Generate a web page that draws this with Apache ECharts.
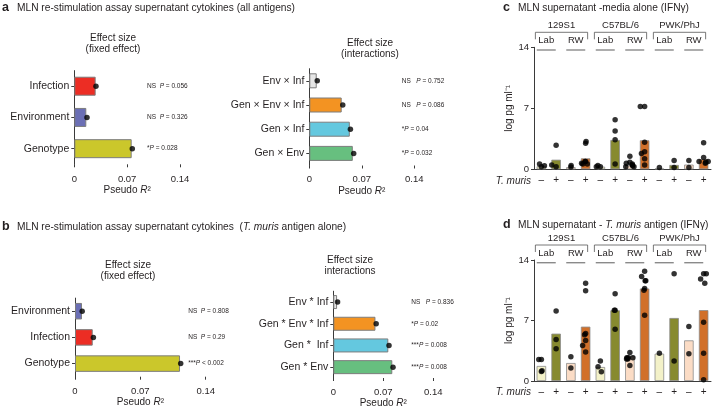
<!DOCTYPE html>
<html><head><meta charset="utf-8">
<script src="https://cdn.jsdelivr.net/npm/echarts@6/dist/echarts.min.js"></script>
<style>html,body{margin:0;padding:0;background:#fff}#c{width:722px;height:410px}</style>
</head><body><div id="c"></div>
<script>
// ---------- Panel a : all antigens ----------
const aFixedCats = ['Infection', 'Environment', 'Genotype'];
const aFixedR2   = [0.0283, 0.0159, 0.0760];
const aFixedPt   = [0.0287, 0.0168, 0.0768];
const aFixedSig  = ['NS  ', 'NS  ', '*'];
const aFixedP    = ['= 0.056', '= 0.326', '= 0.028'];

const aIntCats = ['Env × Inf', 'Gen × Env × Inf', 'Gen × Inf', 'Gen × Env'];
const aIntR2   = [0.0099, 0.0432, 0.0540, 0.0580];
const aIntPt   = [0.0106, 0.0446, 0.0548, 0.0592];
const aIntSig  = ['NS   ', 'NS   ', '*', '*'];
const aIntP    = ['= 0.752', '= 0.086', '= 0.04', '= 0.032'];

// ---------- Panel b : T. muris antigen alone ----------
const bFixedCats = ['Environment', 'Infection', 'Genotype'];
const bFixedR2   = [0.0075, 0.0190, 0.1125];
const bFixedPt   = [0.0077, 0.0197, 0.1132];
const bFixedSig  = ['NS  ', 'NS  ', '***'];
const bFixedP    = ['= 0.808', '= 0.29', '< 0.002'];

const bIntCats = ['Env * Inf', 'Gen * Env * Inf', 'Gen *  Inf', 'Gen * Env'];
const bIntR2   = [0.0053, 0.0590, 0.0770, 0.0826];
const bIntPt   = [0.0060, 0.0600, 0.0780, 0.0836];
const bIntSig  = ['NS   ', '*', '***', '***'];
const bIntP    = ['= 0.836', '= 0.02', '= 0.008', '= 0.008'];

const r2Ticks = [0, 0.07, 0.14];

// ---------- Panels c, d : IFNγ ----------
const strains = ['129S1', 'C57BL/6', 'PWK/PhJ'];
const envs = ['Lab', 'RW'];
const tmLabels = ['–', '+', '–', '+', '–', '+', '–', '+', '–', '+', '–', '+'];
const ifnTicks = [0, 7, 14];

const cBars = [0.35, 1.1, 0.25, 1.26, 0.3, 3.37, 0.45, 3.33, 0.1, 0.5, 0.54, 1.15];
const cDots = [
  [0.3, 0.6, 0.4],
  [2.75, 0.3, 0.5],
  [0.25, 0.45],
  [3.0, 3.2, 0.9, 0.6, 0.6, 0.7, 0.9],
  [0.3, 0.45, 0.3],
  [5.7, 4.4, 3.4, 0.6],
  [1.5, 0.8, 0.7, 0.5, 0.4, 0.3, 0.3, 0.6],
  [7.2, 7.2, 3.1, 2.0, 1.8, 1.2, 0.5],
  [0.2],
  [1.0, 0.2],
  [1.0, 0.2],
  [3.05, 1.35, 0.9, 0.9, 0.7, 0.8]
];

const dBars = [1.74, 5.48, 2.08, 6.29, 1.62, 8.18, 2.93, 10.7, 3.16, 7.29, 4.7, 8.2];
const dDots = [
  [2.5, 2.5, 1.1, 1.2],
  [8.1, 4.8, 3.74],
  [2.8, 1.5],
  [11.3, 10.45, 5.5, 5.36, 4.7, 4.1, 3.35],
  [2.3, 1.66, 1.08],
  [10.1, 8.2, 8.2, 6.0],
  [3.3, 2.7, 2.7, 2.7, 2.55, 2.55, 1.8],
  [12.7, 12.1, 11.6, 11.6, 10.7, 10.5, 7.6],
  [3.2],
  [12.4, 2.3],
  [6.3, 3.16],
  [12.4, 12.4, 11.8, 11.3, 6.8, 3.2, 0.15]
];

// ---------- styles ----------
const TXT = '#231f20';
const FONT = 'Liberation Sans';
const AX = '#3a3a3a';
const COL = {
  'Infection': '#ec2d24', 'Environment': '#6b6fb5', 'Genotype': '#cbc72b',
  'Env × Inf': '#e6e6e6', 'Gen × Env × Inf': '#f39322', 'Gen × Inf': '#64c8df', 'Gen × Env': '#67bf7f',
  'Env * Inf': '#e6e6e6', 'Gen * Env * Inf': '#f39322', 'Gen *  Inf': '#64c8df', 'Gen * Env': '#67bf7f'
};
const IFN_COL = ['#f3f1c8', '#878a2f', '#fbdcc5', '#d1702a'];

const chart = echarts.init(document.getElementById('c'), null, {renderer: 'canvas'});

const barGrids = [
  {left: 74.3, top: 70.6, width: 105.7, height: 93.7, cats: aFixedCats, r2: aFixedR2, pt: aFixedPt, sig: aFixedSig, p: aFixedP, bw: 19, pOff: 33, margin: 10, gap: 21},
  {left: 309.3, top: 68.7, width: 105, height: 96.8, cats: aIntCats, r2: aIntR2, pt: aIntPt, sig: aIntSig, p: aIntP, bw: 15, pOff: 12.5, margin: 9, gap: 21},
  {left: 75, top: 298.1, width: 130.7, height: 78.6, cats: bFixedCats, r2: bFixedR2, pt: bFixedPt, sig: bFixedSig, p: bFixedP, bw: 16.5, pOff: 17.5, margin: 10, gap: 21},
  {left: 333.3, top: 291.2, width: 100, height: 86.8, cats: bIntCats, r2: bIntR2, pt: bIntPt, sig: bIntSig, p: bIntP, bw: 14, pOff: 22, margin: 9, gap: 20}
];

const grid = [], xAxis = [], yAxis = [], series = [];
barGrids.forEach((g, k) => {
  grid.push({left: g.left, top: g.top, width: g.width, height: g.height, containLabel: false});
  xAxis.push({
    type: 'value', gridIndex: k, min: r2Ticks[0], max: r2Ticks[2], interval: r2Ticks[1],
    axisLine: {show: false}, splitLine: {show: false},
    axisTick: {show: true, length: 3, lineStyle: {color: AX}},
    axisLabel: {fontFamily: FONT, fontSize: 9.5, color: TXT, margin: g.margin, formatter: v => String(+v.toFixed(2))},
    name: '{t|Pseudo }{i|R}{t|²}', nameLocation: 'middle', nameGap: g.gap,
    nameTextStyle: {rich: {t: {fontFamily: FONT, fontSize: 10, color: TXT}, i: {fontFamily: FONT, fontSize: 10, fontStyle: 'italic', color: TXT}}}
  });
  yAxis.push({
    type: 'category', gridIndex: k, data: g.cats, inverse: true,
    axisLine: {show: true, lineStyle: {color: AX, width: 1}},
    axisTick: {show: true, length: 3, alignWithLabel: true, lineStyle: {color: AX}},
    axisLabel: {fontFamily: FONT, fontSize: 10.5, color: TXT, margin: 5}
  });
  yAxis.push({
    type: 'category', gridIndex: k, data: g.cats, inverse: true, position: 'right', offset: -g.pOff,
    axisLine: {show: false}, axisTick: {show: false},
    axisLabel: {
      margin: 0, align: 'left',
      formatter: (v, i) => `{s|${g.sig[i]}}{i|P}{s| ${g.p[i]}}`,
      rich: {s: {fontFamily: FONT, fontSize: 6.5, color: TXT}, i: {fontFamily: FONT, fontSize: 6.5, fontStyle: 'italic', color: TXT}}
    }
  });
  series.push({
    type: 'bar', xAxisIndex: k, yAxisIndex: 2 * k, barWidth: g.bw,
    data: g.r2.map((v, i) => ({value: v, itemStyle: {color: COL[g.cats[i]]}})),
    itemStyle: {borderColor: '#7d7d7d', borderWidth: 1}
  });
  series.push({
    type: 'scatter', xAxisIndex: k, yAxisIndex: 2 * k, symbolSize: 5.5,
    itemStyle: {color: '#000'},
    data: g.pt.map((v, i) => [v, i])
  });
});

const ifnGrids = [
  {left: 534, top: 47.3, width: 177, height: 122, bars: cBars, dots: cDots},
  {left: 534, top: 260, width: 177, height: 121, bars: dBars, dots: dDots}
];
ifnGrids.forEach((g, j) => {
  const k = 4 + j;
  grid.push({left: g.left, top: g.top, width: g.width, height: g.height});
  xAxis.push({
    type: 'category', gridIndex: k, data: tmLabels,
    jitter: 10, jitterOverlap: false, jitterMargin: 0.5,
    axisLine: {show: true, lineStyle: {color: AX, width: 1}},
    axisTick: {show: false},
    axisLabel: {fontFamily: FONT, fontSize: 10, color: TXT, margin: 6}
  });
  yAxis.push({
    type: 'value', gridIndex: k, min: ifnTicks[0], max: ifnTicks[2], interval: ifnTicks[1],
    axisLine: {show: true, lineStyle: {color: AX, width: 1}},
    axisTick: {show: true, length: 3, lineStyle: {color: AX}},
    splitLine: {show: false},
    axisLabel: {fontFamily: FONT, fontSize: 9.5, color: TXT, margin: 5},
    name: 'log pg ml⁻¹', nameLocation: 'middle', nameGap: 19,
    nameTextStyle: {fontFamily: FONT, fontSize: 10, color: TXT}
  });
  series.push({
    type: 'bar', xAxisIndex: k, yAxisIndex: 8 + j, barWidth: 9.5,
    data: g.bars.map((v, i) => ({value: v, itemStyle: {color: IFN_COL[i % 4]}})),
    itemStyle: {borderColor: '#8c8c8c', borderWidth: 0.8}
  });
  series.push({
    type: 'scatter', xAxisIndex: k, yAxisIndex: 8 + j, symbolSize: 5.5,
    itemStyle: {color: '#000'},
    data: g.dots.flatMap((arr, i) => arr.map(v => [i, v]))
  });
});

chart.setOption({animation: false, grid, xAxis, yAxis, series});

// ---------- annotations ----------
const T = (x, y, text, opt = {}) => ({
  type: 'text', x, y,
  style: Object.assign({text, fill: TXT, font: `${opt.size || 10}px "${FONT}"`, align: opt.align || 'left', verticalAlign: 'middle'}, opt.style || {})
});
const richT = (x, y, text, size) => ({
  type: 'text', x, y,
  style: {
    text, fill: TXT, align: 'left', verticalAlign: 'middle',
    rich: {n: {fontFamily: FONT, fontSize: size, fill: TXT}, it: {fontFamily: FONT, fontSize: size, fontStyle: 'italic', fill: TXT}}
  }
});
const BOLD = {style: {font: `bold 12.5px "${FONT}"`}};
const TS = 10.2;
const g = [];
g.push(T(2, 8, 'a', BOLD));
g.push(T(17, 8, 'MLN re-stimulation assay supernatant cytokines (all antigens)', {size: TS}));
g.push(T(2, 227, 'b', BOLD));
g.push(richT(17, 227, '{n|MLN re-stimulation assay supernatant cytokines  (}{it|T. muris}{n| antigen alone)}', TS));
g.push(T(503, 8, 'c', BOLD));
g.push(T(518, 8, 'MLN supernatant -media alone (IFNγ)', {size: TS}));
g.push(T(503, 225, 'd', BOLD));
g.push(richT(518, 225, '{n|MLN supernatant - }{it|T. muris}{n| antigen (IFNγ)}', TS));

const eff = (x, y, text) => ({type: 'text', x, y, style: {text, fill: TXT, font: `10px "${FONT}"`, align: 'center', verticalAlign: 'middle', lineHeight: 11}});
g.push(eff(113, 44, 'Effect size\n(fixed effect)'));
g.push(eff(370, 49, 'Effect size\n(interactions)'));
g.push(eff(128, 271, 'Effect size\n(fixed effect)'));
g.push(eff(350, 265.5, 'Effect size\ninteractions'));

g.push(T(531, 181, 'T. muris', {align: 'right', style: {font: `italic 10px "${FONT}"`}}));
g.push(T(531, 392, 'T. muris', {align: 'right', style: {font: `italic 10px "${FONT}"`}}));

ifnGrids.forEach((gr, j) => {
  const xi = 4 + j, top = gr.top;
  const px = i => chart.convertToPixel({xAxisIndex: xi}, i);
  strains.forEach((s, k) => {
    const x1 = px(4 * k) - 6, x2 = px(4 * k + 3) + 2;
    g.push(T((x1 + x2) / 2, top - 22, s, {size: 9.5, align: 'center'}));
    g.push({type: 'polyline', shape: {points: [[x1, top - 8], [x1, top - 15], [x2, top - 15], [x2, top - 8]]},
      style: {stroke: '#555', lineWidth: 0.8, fill: 'none'}});
    envs.forEach((e, m) => {
      const cx = (px(4 * k + 2 * m) + px(4 * k + 2 * m + 1)) / 2 - 2.5;
      g.push(T(cx, top - 7, e, {size: 9.5, align: 'center'}));
      g.push({type: 'line', shape: {x1: cx - 9.5, y1: top + 2.7, x2: cx + 9.5, y2: top + 2.7},
        style: {stroke: '#8a8a8a', lineWidth: 1.4}});
    });
  });
});

chart.setOption({graphic: g});
</script></body></html>
